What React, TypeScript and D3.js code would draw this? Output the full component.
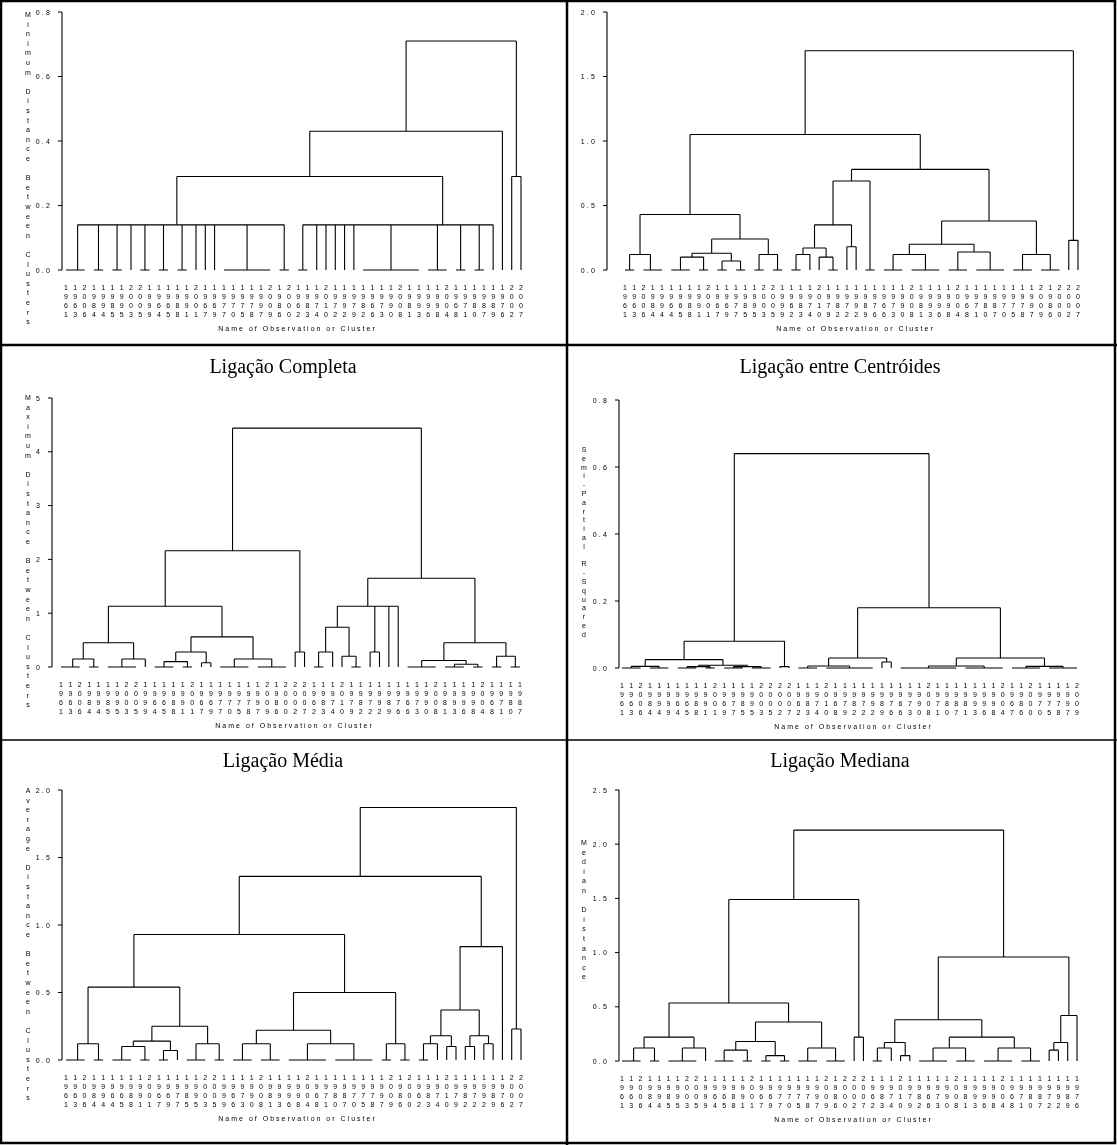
import React from 'react';
import * as d3 from 'd3';

type T = number | T[];

// ---------- leaf orders (years) ----------
const leavesSimples = [1961,1963,2006,1984,1994,1985,1995,2003,2005,1999,1964,1965,1988,1991,2001,1967,1969,1977,1970,1975,1978,1997,2009,1986,2000,1962,1983,1974,2010,1972,1992,1979,1982,1966,1973,1990,2008,1981,1993,1996,1998,2004,1968,1971,1980,1987,1989,1976,2002,2007];
const leavesWard = [1961,1963,2006,1984,1994,1964,1965,1988,1991,2001,1967,1969,1977,1985,1995,2003,2005,1999,1962,1983,1974,2010,1979,1982,1972,1992,1989,1976,1966,1973,1990,2008,1981,1993,1996,1998,2004,1968,1971,1980,1987,1970,1975,1978,1997,2009,1986,2000,2002,2007];
const leavesCompleta = [1961,1963,2006,1984,1994,1985,1995,2003,2005,1999,1964,1965,1988,1991,2001,1967,1969,1977,1970,1975,1978,1997,2009,1986,2000,2002,2007,1962,1983,1974,2010,1979,1982,1972,1992,1989,1976,1966,1973,1990,2008,1981,1993,1996,1998,2004,1968,1971,1980,1987];
const leavesCentroides = [1961,1963,2006,1984,1994,1999,1964,1965,1988,1991,2001,1969,1977,1985,1995,2003,2005,2002,2007,1962,1983,1974,2010,1968,1979,1982,1972,1992,1989,1976,1966,1973,1990,2008,1971,1980,1987,1981,1993,1996,1998,2004,1967,1986,2000,1970,1975,1978,1997,2009];
const leavesMedia = [1961,1963,2006,1984,1994,1964,1965,1988,1991,2001,1967,1969,1977,1985,1995,2003,2005,1999,1966,1973,1990,2008,1981,1993,1996,1998,2004,1968,1971,1980,1987,1970,1975,1978,1997,2009,1986,2000,1962,1983,1974,2010,1979,1982,1972,1992,1989,1976,2002,2007];
const leavesMediana = [1961,1963,2006,1984,1994,1985,1995,2003,2005,1999,1964,1965,1988,1991,2001,1967,1969,1977,1970,1975,1978,1997,2009,1986,2000,2002,2007,1962,1983,1974,2010,1979,1982,1966,1973,1990,2008,1981,1993,1996,1998,2004,1968,1971,1980,1987,1972,1992,1989,1976];

// ---------- merge trees: [height, child, child, ...]; a leaf is its position in the leaf order ----------
const treeSimples: T = [0.71,
  [0.43,
    [0.29,
      [0.14,
        [0.14, [0,[0,0,1],2], [0,3,4], [0,5,6], 7, [0,8,9], [0,10,11]],
        [0.14, [0,12,13], 14, 15, 16, [0,17,18,19,20,21,22], [0,23,24]]],
      [0.14,
        [0.14,
          [0.14, [0,25,26], 27, 28, 29, 30, 31, [0,32,33,34,35,36,37,38]],
          [0,39,40,41]],
        [0,42,43], [0,44,45], 46]],
    47],
  [0.29, 48, 49]];

const treeWard: T = [1.7,
  [1.05,
    [0.43,
      [0.12, [0,0,1], [0,2,[0,3,4]]],
      [0.24,
        [0.13, [0.1,[0,5,6,7],[0,8,9]], [0.07,[0,10,11],[0,12,13]]],
        [0.12, [0,14,15], [0,16,17]]]],
    [0.78,
      [0.69,
        [0.35,
          [0.17, [0.12,[0,18,19],20], [0.1,21,[0,22,23]]],
          [0.18, 24, 25]],
        [0,26,27]],
      [0.38,
        [0.2, [0.12,[0,28,29,30],[0,31,32,33,34]], [0.14,[0,35,36,37],[0,38,39,40,41]]],
        [0.12, [0,42,43,44], [0,45,46,47]]]]],
  [0.23, 48, 49]];

const treeCompleta: T = [4.44,
  [2.16,
    [1.13,
      [0.45, [0.15,[0,[0,0,1],2],[0,3,4]], [0.15,[0,5,6,7,8],9]],
      [0.56,
        [0.28, [0.1,[0,10,11,12],[0,13,14]], [0.08,15,16]],
        [0.15,[0,17,18,19,20],[0,21,22,23,24]]]],
    [0.28, 25, 26]],
  [1.65,
    [1.13,
      [0.74, [0.28,[0,27,28],29], [0.2,30,[0,31,32]]],
      [0.28,33,34], 35, 36],
    [0.45,
      [0.12, [0,37,38,39,40], [0.05,[0,41,42,43],[0,44,45]]],
      [0.2, [0,46,47], [0,48,49]]]]];

const treeCentroides: T = [0.64,
  [0.08,
    [0.025,
      [0.005, [0,0,1,2], [0,3,4,5]],
      [0.008, [0.004,[0,6,7,8],[0,9,10]], [0.004,[0,11,12,13],[0,14,15,16]]]],
    [0.004, 17, 18]],
  [0.18,
    [0.03,
      [0.006, [0,19,20,21], [0,22,23,24,25,26,27]],
      [0.018, 28, 29]],
    [0.03,
      [0.006, [0,30,31,32,33,34,35,36], [0,37,38,39,40,41]],
      [0.005, [0,42,43,44,45], [0,46,47,48,49]]]]];

const treeMedia: T = [1.87,
  [1.36,
    [0.93,
      [0.54,
        [0.12, [0,[0,0,1],2], [0,3,4]],
        [0.25,
          [0.14, [0.1,[0,5,6,7],[0,8,9]], [0.07,[0,10,11],12]],
          [0.12, [0,13,14,15], [0,16,17]]]],
      [0.5,
        [0.22,
          [0.12, [0,18,19,20], [0,21,22,23]],
          [0.12, [0,24,25,26,27,28], [0,29,30,31,32,33]]],
        [0.12, [0,34,35], [0,36,37]]]],
    [0.84,
      [0.37,
        [0.18, [0.12,[0,38,39],40], [0.1,41,42]],
        [0.18, [0.1,43,44], [0.12,45,46]]],
      47]],
  [0.23, 48, 49]];

const treeMediana: T = [2.13,
  [1.49,
    [0.535,
      [0.22, [0.12,[0,[0,0,1],2],[0,3,4]], [0.12,[0,5,6,7,8],9]],
      [0.36,
        [0.18, [0.1,[0,10,11,12],[0,13,14]], [0.05,[0,15,16],[0,17,18]]],
        [0.12, [0,19,20,21], [0,22,23,24]]]],
    [0.22, 25, 26]],
  [0.96,
    [0.38,
      [0.17, [0.12,[0,27,28],29], [0.05,30,31]],
      [0.22, [0.12,[0,32,33,34,35],[0,36,37,38]], [0.12,[0,39,40,41,42],[0,43,44,45]]]],
    [0.42, [0.17, [0.1,46,47], 48], 49]]];

type Cfg = {
  leaves: number[]; tree: T; yMax: number; ticks: number[]; fmt: (v: number) => string;
  yTitle: string; axisX: number; yTop: number; yZero: number; leafX0: number; leafX1: number;
  titleX: number; titleY0: number; titleStep: number;
};

const f1 = (v: number) => d3.format('.1f')(v);
const f0 = (v: number) => d3.format('d')(v);

const panels: Cfg[] = [
  { leaves: leavesSimples, tree: treeSimples, yMax: 0.8, ticks: [0, 0.2, 0.4, 0.6, 0.8], fmt: f1,
    yTitle: 'Minimum Distance Between Clusters', axisX: 62, yTop: 12, yZero: 270, leafX0: 66, leafX1: 521,
    titleX: 28, titleY0: 17, titleStep: 9.6 },
  { leaves: leavesWard, tree: treeWard, yMax: 2.0, ticks: [0, 0.5, 1.0, 1.5, 2.0], fmt: f1,
    yTitle: '', axisX: 607, yTop: 12, yZero: 270, leafX0: 625, leafX1: 1078,
    titleX: 0, titleY0: 0, titleStep: 9.6 },
  { leaves: leavesCompleta, tree: treeCompleta, yMax: 5, ticks: [0, 1, 2, 3, 4, 5], fmt: f0,
    yTitle: 'Maximum Distance Between Clusters', axisX: 52, yTop: 398, yZero: 667, leafX0: 61, leafX1: 520,
    titleX: 28, titleY0: 400, titleStep: 9.6 },
  { leaves: leavesCentroides, tree: treeCentroides, yMax: 0.8, ticks: [0, 0.2, 0.4, 0.6, 0.8], fmt: f1,
    yTitle: 'Semi-Partial R-Squared', axisX: 619, yTop: 400, yZero: 668, leafX0: 622, leafX1: 1077,
    titleX: 584, titleY0: 452, titleStep: 8.8 },
  { leaves: leavesMedia, tree: treeMedia, yMax: 2.0, ticks: [0, 0.5, 1.0, 1.5, 2.0], fmt: f1,
    yTitle: 'Average Distance Between Clusters', axisX: 62, yTop: 790, yZero: 1060, leafX0: 66, leafX1: 521,
    titleX: 28, titleY0: 793, titleStep: 9.6 },
  { leaves: leavesMediana, tree: treeMediana, yMax: 2.5, ticks: [0, 0.5, 1.0, 1.5, 2.0, 2.5], fmt: f1,
    yTitle: 'Median Distance', axisX: 619, yTop: 790, yZero: 1061, leafX0: 622, leafX1: 1077,
    titleX: 584, titleY0: 845, titleStep: 9.6 },
];

const titles = [
  { text: 'Ligação Completa', x: 283, y: 373 },
  { text: 'Ligação entre Centróides', x: 840, y: 373 },
  { text: 'Ligação Média', x: 283, y: 767 },
  { text: 'Ligação Mediana', x: 840, y: 767 },
];

const SANS = '"Liberation Sans", Arial, sans-serif';

function Dendro({ c }: { c: Cfg }) {
  const x = d3.scalePoint<number>().domain(d3.range(c.leaves.length)).range([c.leafX0, c.leafX1]);
  const y = d3.scaleLinear().domain([0, c.yMax]).range([c.yZero, c.yTop]);
  const segs: [number, number, number, number][] = [];
  const lay = (n: T): { x: number; h: number } => {
    if (typeof n === 'number') return { x: x(n)!, h: 0 };
    const h = n[0] as number;
    const kids = n.slice(1).map(lay);
    const yy = y(h);
    const xa = kids[0].x, xb = kids[kids.length - 1].x;
    segs.push([xa, yy, xb, yy]);
    kids.forEach(k => { if (k.h !== h) segs.push([k.x, y(k.h), k.x, yy]); });
    return { x: (xa + xb) / 2, h };
  };
  lay(c.tree);
  const path = segs.map(s => `M${s[0].toFixed(2)},${s[1].toFixed(2)}L${s[2].toFixed(2)},${s[3].toFixed(2)}`).join('');
  const mid = (c.leafX0 + c.leafX1) / 2;
  return (
    <g>
      <line x1={c.axisX} x2={c.axisX} y1={c.yTop} y2={c.yZero} stroke="#000" strokeWidth={1.1} />
      {c.ticks.map(t => (
        <g key={t}>
          <line x1={c.axisX - 4} x2={c.axisX} y1={y(t)} y2={y(t)} stroke="#000" strokeWidth={1} />
          <text x={c.axisX - 10} y={y(t) + 2.5} fontSize={7} fontFamily={SANS} textAnchor="end" letterSpacing={2.2} fill="#000">{c.fmt(t)}</text>
        </g>
      ))}
      {c.yTitle.split('').map((ch, i) => (
        <text key={i} x={c.titleX} y={c.titleY0 + i * c.titleStep} fontSize={7} fontFamily={SANS} textAnchor="middle" fill="#000">{ch}</text>
      ))}
      <path d={path} stroke="#000" strokeWidth={1.1} fill="none" />
      {c.leaves.map((yr, i) => String(yr).split('').map((ch, k) => (
        <text key={i + '-' + k} x={x(i)} y={c.yZero + 19.5 + k * 9} fontSize={7} fontFamily={SANS} textAnchor="middle" fill="#000">{ch}</text>
      )))}
      <text x={mid + 4} y={c.yZero + 61} fontSize={7} fontFamily={SANS} textAnchor="middle" letterSpacing={2.0} fill="#000">Name of Observation or Cluster</text>
    </g>
  );
}

export default function App() {
  return (
    <div style={{ position: 'absolute', left: 0, top: 0 }}>
      <svg width={1117} height={1145} style={{ display: 'block', willChange: 'transform' }}>
        <rect x={0} y={0} width={1117} height={1145} fill="#fff" />
        <rect x={1} y={1} width={1114} height={1142} fill="none" stroke="#000" strokeWidth={2.5} />
        <line x1={567} x2={567} y1={0} y2={1145} stroke="#000" strokeWidth={2.5} />
        <line x1={0} x2={1117} y1={345} y2={345} stroke="#000" strokeWidth={2.5} />
        <line x1={0} x2={1117} y1={740} y2={740} stroke="#000" strokeWidth={1.5} />
        {titles.map(t => (
          <text key={t.text} x={t.x} y={t.y} fontSize={20} fontFamily='"Liberation Serif", "Times New Roman", serif' textAnchor="middle" fill="#000">{t.text}</text>
        ))}
        {panels.map((p, i) => <Dendro key={i} c={p} />)}
      </svg>
    </div>
  );
}
